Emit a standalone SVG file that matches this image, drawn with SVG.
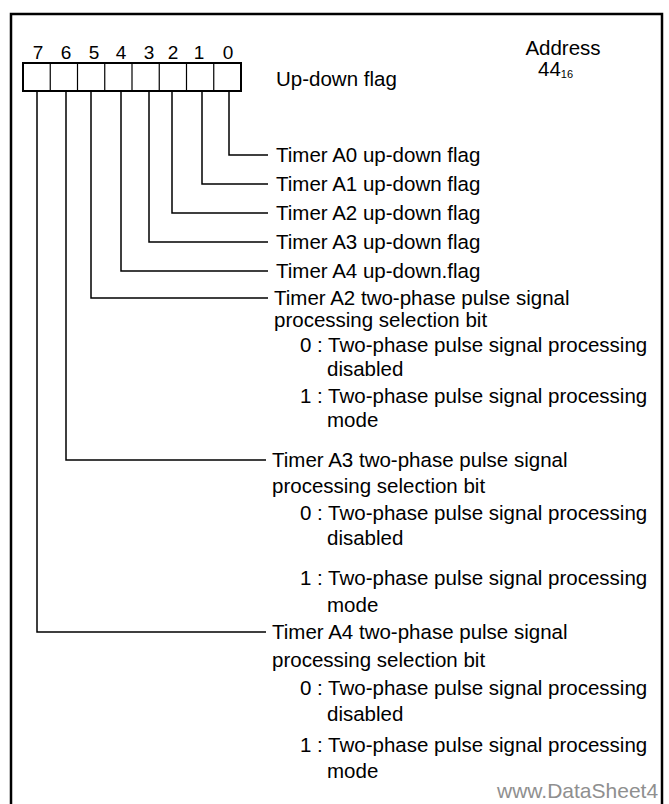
<svg xmlns="http://www.w3.org/2000/svg" width="669" height="804" viewBox="0 0 669 804">
<style>
text{font-family:"Liberation Sans",Arial,sans-serif;font-size:20.5px;fill:#000}
.c{fill:none;stroke:#000;stroke-width:1.5}
.b{fill:#fff;stroke:#000;stroke-width:2}
.d{fill:none;stroke:#000;stroke-width:1.2}
.n{text-anchor:middle}
.bit{font-size:19px}
.wm{fill:#8f8f8f;font-size:21px}
</style>
<rect x="11" y="14" width="651" height="800" fill="none" stroke="#000" stroke-width="2.5"/>
<g id="register">
<rect class="b" x="23" y="63" width="218" height="28"/>
<path class="d" d="M50.25 63V91M77.5 63V91M104.75 63V91M132 63V91M159.25 63V91M186.5 63V91M213.75 63V91"/>
<text class="n bit" x="38" y="59">7</text>
<text class="n bit" x="66" y="59">6</text>
<text class="n bit" x="94" y="59">5</text>
<text class="n bit" x="121" y="59">4</text>
<text class="n bit" x="149" y="59">3</text>
<text class="n bit" x="173" y="59">2</text>
<text class="n bit" x="199" y="59">1</text>
<text class="n bit" x="228" y="59">0</text>
<text x="276" y="86">Up-down flag</text>
<text class="n" x="563" y="55" font-size="19">Address</text>
<text x="538" y="76" font-size="17">44<tspan font-size="11" dy="2">16</tspan></text>
</g>
<g id="connectors">
<path class="c" d="M229 91V155H268"/>
<path class="c" d="M202 91V184H268"/>
<path class="c" d="M172 91V213H268"/>
<path class="c" d="M149 91V242H268"/>
<path class="c" d="M121 91V271H268"/>
<path class="c" d="M91 91V298H268"/>
<path class="c" d="M66 91V460H266"/>
<path class="c" d="M37 91V632H266"/>
</g>
<g id="bit0"><text x="276" y="162">Timer A0 up-down flag</text></g>
<g id="bit1"><text x="276" y="191">Timer A1 up-down flag</text></g>
<g id="bit2"><text x="276" y="220">Timer A2 up-down flag</text></g>
<g id="bit3"><text x="276" y="249">Timer A3 up-down flag</text></g>
<g id="bit4"><text x="276" y="278">Timer A4 up-down.flag</text></g>
<g id="bit5">
<text x="274" y="305">Timer A2 two-phase pulse signal</text>
<text x="274" y="327">processing selection bit</text>
<text x="300" y="352">0 : Two-phase pulse signal processing</text>
<text x="327" y="376">disabled</text>
<text x="300" y="403">1 : Two-phase pulse signal processing</text>
<text x="327" y="427">mode</text>
</g>
<g id="bit6">
<text x="272" y="467">Timer A3 two-phase pulse signal</text>
<text x="272" y="493">processing selection bit</text>
<text x="300" y="520">0 : Two-phase pulse signal processing</text>
<text x="327" y="545">disabled</text>
<text x="300" y="585">1 : Two-phase pulse signal processing</text>
<text x="327" y="612">mode</text>
</g>
<g id="bit7">
<text x="272" y="639">Timer A4 two-phase pulse signal</text>
<text x="272" y="667">processing selection bit</text>
<text x="300" y="695">0 : Two-phase pulse signal processing</text>
<text x="327" y="721">disabled</text>
<text x="300" y="752">1 : Two-phase pulse signal processing</text>
<text x="327" y="778">mode</text>
</g>
<text class="wm" x="497" y="798">www.DataSheet4</text>
</svg>
